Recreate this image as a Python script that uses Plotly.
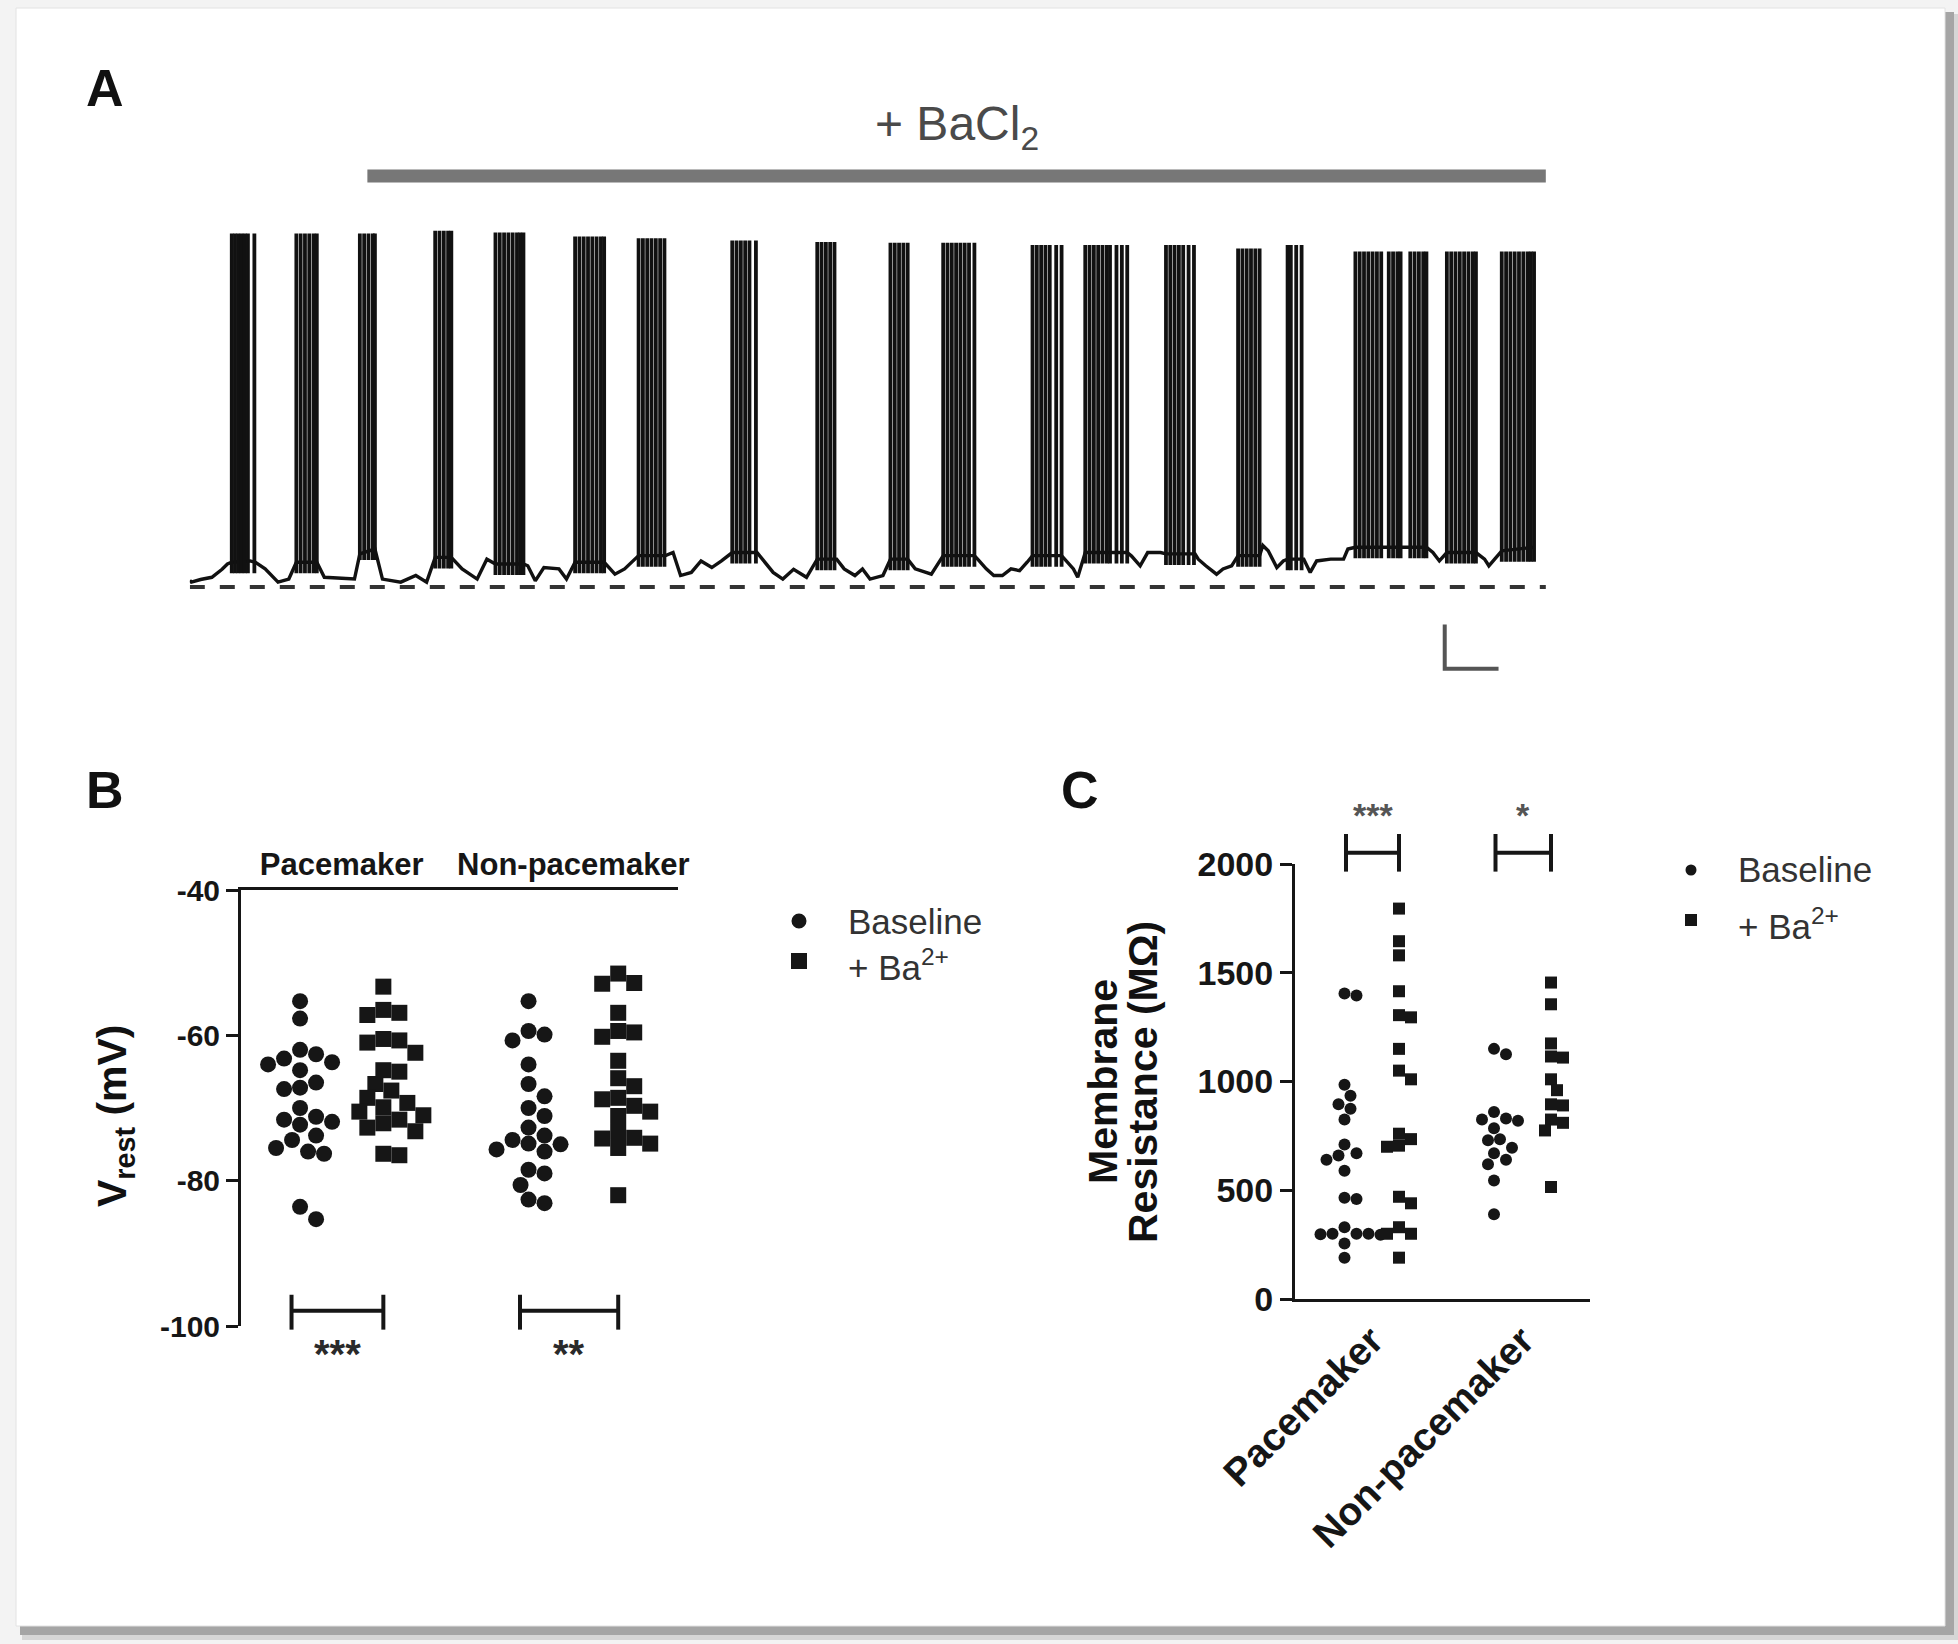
import plotly.graph_objects as go

W, H = 1958, 1644
FONT = "Arial, 'Liberation Sans', Helvetica, sans-serif"

# ---------------- Panel A data (membrane potential trace) ----------------
TRACE_T = [0.0, 0.15, 1.0, 2.05, 3.0, 3.5, 3.9, 5.6, 6.1, 7.0, 8.2, 9.2, 9.9, 11.8, 12.5, 14.4,
           15.3, 15.8, 17.2, 17.9, 19.6, 21.0, 22.0, 22.8, 24.3, 25.3, 26.7, 27.6, 28.4, 31.0,
           31.4, 32.1, 32.9, 34.3, 35.0, 35.8, 38.5, 39.5, 40.4, 41.7, 44.2, 44.9, 45.6, 46.6,
           47.5, 48.5, 49.4, 50.4, 52.7, 53.2, 54.2, 55.1, 56.1, 57.3, 58.3, 60.1, 60.8, 61.8,
           62.5, 63.2, 64.4, 65.1, 66.7, 67.4, 68.9, 70.0, 72.9, 73.2, 74.0, 74.7, 75.5, 76.3,
           77.1, 77.8, 78.3, 81.0, 81.3, 82.1, 82.5, 83.2, 87.1, 87.5, 88.3, 89.0, 90.2, 90.7,
           93.4, 93.7, 94.4, 95.4, 96.0, 96.8, 97.4, 99.4, 99.7, 100.2, 101.0, 101.6, 102.0,
           103.3, 103.5, 104.1, 104.7, 106.0, 107.2, 107.6, 108.3, 114.9, 115.5, 116.1, 116.8,
           119.5, 120.3, 120.7, 121.9, 124.9]
TRACE_V = [-58.5, -58.9, -58.3, -57.8, -56.0, -54.8, -54.4, -54.1, -54.4, -55.9, -58.9, -58.2,
           -54.4, -54.4, -57.8, -58.2, -58.2, -52.5, -51.4, -58.2, -58.9, -57.4, -58.9, -53.3,
           -53.3, -55.9, -58.2, -53.7, -54.8, -54.8, -55.2, -58.6, -55.6, -55.9, -58.2, -54.4,
           -54.4, -57.1, -55.9, -52.9, -52.9, -52.2, -57.4, -56.7, -54.1, -55.6, -54.1, -52.2,
           -52.2, -53.7, -56.7, -58.2, -56.0, -57.8, -53.7, -53.7, -55.9, -57.4, -55.9, -58.2,
           -57.4, -53.7, -53.7, -55.9, -57.1, -52.9, -52.9, -53.7, -55.9, -57.4, -57.4, -55.9,
           -56.3, -54.4, -52.9, -52.9, -53.7, -55.9, -57.8, -52.2, -52.2, -53.0, -55.2, -52.2,
           -52.2, -52.5, -52.5, -53.7, -55.2, -57.1, -55.9, -55.2, -52.9, -52.9, -50.6, -51.8,
           -55.6, -54.1, -53.7, -53.7, -53.7, -56.7, -54.1, -53.7, -53.7, -51.4, -51.0, -51.0,
           -52.2, -54.1, -52.2, -52.2, -53.7, -55.2, -51.8, -51.0]

BURST_SPIKES = [
    [3.9, 4.2, 4.5, 4.8, 5.1, 5.4, 6.0],
    [9.9, 10.3, 10.7, 11.1, 11.5, 11.8],
    [15.8, 16.2, 16.6, 17.0, 17.2],
    [22.8, 23.2, 23.6, 24.0, 24.3],
    [28.4, 28.8, 29.2, 29.6, 30.0, 30.4, 30.7, 31.0],
    [35.8, 36.2, 36.6, 37.0, 37.4, 37.8, 38.2, 38.5],
    [41.7, 42.1, 42.5, 42.9, 43.3, 43.7, 44.1],
    [50.4, 50.8, 51.2, 51.6, 52.0, 52.6],
    [58.3, 58.7, 59.1, 59.5, 59.9],
    [65.1, 65.5, 65.9, 66.3, 66.7],
    [70.0, 70.4, 70.8, 71.2, 71.6, 72.0, 72.4, 72.9],
    [78.3, 78.7, 79.1, 79.5, 79.9, 80.5, 81.0],
    [83.2, 83.6, 84.0, 84.4, 84.8, 85.2, 85.5, 86.1, 86.6, 87.1],
    [90.7, 91.1, 91.5, 91.9, 92.3, 92.8, 93.3],
    [97.4, 97.8, 98.2, 98.6, 99.0, 99.4],
    [102.0, 102.3, 102.8, 103.3],
    [108.3, 108.7, 109.1, 109.5, 109.9, 110.3, 110.7, 111.4, 111.8, 112.2, 112.5,
     113.4, 113.8, 114.2, 114.6, 114.9],
    [116.8, 117.2, 117.6, 118.0, 118.4, 118.8, 119.2, 119.5],
    [121.9, 122.3, 122.7, 123.1, 123.5, 123.9, 124.3, 124.6, 124.9],
]
BURST_PEAK = [20.0, 20.0, 20.0, 20.6, 20.2, 19.3, 18.9, 18.4, 18.1, 17.9, 17.9,
              17.4, 17.4, 17.4, 16.6, 17.4, 15.9, 15.9, 15.9]
BURST_BASE = [-54.4, -54.4, -51.4, -53.3, -54.8, -54.4, -52.9, -52.2, -53.7, -53.7, -52.9,
              -52.9, -52.2, -52.5, -52.9, -53.7, -51.0, -52.2, -51.8]
BACL_ON, BACL_OFF = 16.5, 126.0
REF_V = -60.0
SCALE_T, SCALE_MV = 5.0, 10.0

# ---------------- Panel B data (Vrest, mV) ----------------
B_CATS = ["Pacemaker", "Non-pacemaker"]
VREST_PACE_BASE = [-55.3, -57.7, -62.0, -62.6, -63.2, -63.7, -64.0, -64.8, -66.5, -67.2, -67.4,
                   -70.0, -71.2, -71.6, -71.9, -72.3, -73.8, -74.4, -75.5, -76.0, -76.3, -83.6, -85.3]
VREST_PACE_BA = [-53.3, -56.5, -56.9, -57.2, -60.5, -60.7, -61.0, -62.4, -64.8, -65.0, -66.7,
                 -67.6, -68.6, -69.3, -69.9, -70.5, -71.0, -71.6, -72.1, -72.7, -73.2, -76.3, -76.5]
VREST_NONPACE_BASE = [-55.3, -59.4, -59.9, -60.7, -64.0, -66.7, -68.4, -70.0, -71.1, -72.7, -73.8,
                      -74.4, -74.9, -75.0, -75.7, -76.0, -78.5, -79.0, -80.6, -82.6, -83.1]
VREST_NONPACE_BA = [-51.5, -52.8, -52.9, -56.9, -59.4, -59.6, -60.2, -63.5, -65.9, -67.0, -68.6,
                    -68.8, -69.7, -70.5, -71.1, -73.3, -74.1, -74.2, -74.9, -75.5, -82.0]
B_SIG = ["***", "**"]

# ---------------- Panel C data (membrane resistance, MOhm) ----------------
C_CATS = ["Pacemaker", "Non-pacemaker"]
RM_PACE_BASE = [1405, 1395, 985, 935, 895, 875, 825, 710, 670, 660, 640, 590, 465, 460,
                330, 300, 300, 298, 295, 300, 255, 190]
RM_PACE_BA = [1795, 1645, 1580, 1415, 1305, 1295, 1150, 1050, 1010, 760, 735, 705, 700,
              470, 440, 330, 300, 300, 190]
RM_NONPACE_BASE = [1150, 1125, 860, 830, 825, 820, 785, 730, 735, 695, 670, 640, 620, 545, 390]
RM_NONPACE_BA = [1455, 1355, 1175, 1110, 1115, 1010, 960, 895, 890, 825, 810, 775, 515]
C_SIG = ["***", "*"]

# ---------------- layout geometry (pixels) ----------------
XA, YA = (189.8, 1545.9), (140.0, 700.0)
XA_R, YA_R = [0, 126], [-85.57, 41.16]
XB, YB = (241.0, 678.0), (890.0, 1326.0)
XB_R, YB_R = [0, 6.14], [-100, -40]
XC, YC = (1295.0, 1590.0), (864.0, 1299.0)
XC_R, YC_R = [0, 5.9], [0, 2000]
B_GROUPS = [0.83, 2.0, 4.04, 5.3]
C_GROUPS = [0.99, 2.08, 3.98, 5.12]
INK = "#161616"


def xp(px):
    return px / W


def yp(py):
    return 1 - py / H


def map_x(v, dom, rng):
    return dom[0] + (v - rng[0]) / (rng[1] - rng[0]) * (dom[1] - dom[0])


def map_y(v, dom, rng):
    return dom[1] - (v - rng[0]) / (rng[1] - rng[0]) * (dom[1] - dom[0])


def swarm(vals, center, diam, sx, sy):
    order = sorted(range(len(vals)), key=lambda i: -vals[i])
    placed = []
    out = [center] * len(vals)
    for i in order:
        yy = vals[i] * sy
        k = 0
        found = None
        while found is None:
            cands = [0.0] if k == 0 else [k * diam * 0.5, -k * diam * 0.5]
            for c in cands:
                if all((c - a) ** 2 + (yy - b) ** 2 >= (diam * 0.97) ** 2 for a, b in placed):
                    found = c
                    break
            k += 1
        placed.append((found, yy))
        out[i] = center + found / sx
    return out


fig = go.Figure()

# ---- Panel A ----
fig.add_trace(go.Scatter(x=[BACL_ON, BACL_OFF], y=[33.0, 33.0], mode="lines",
                         line=dict(color="#777777", width=13), xaxis="x", yaxis="y",
                         showlegend=False, hoverinfo="skip"))
fig.add_trace(go.Scatter(x=[0, XA_R[1]], y=[REF_V, REF_V], mode="lines",
                         line=dict(color="#333333", width=4, dash="15px,15px"),
                         xaxis="x", yaxis="y", showlegend=False, hoverinfo="skip"))
fig.add_trace(go.Scatter(x=TRACE_T, y=TRACE_V, mode="lines",
                         line=dict(color="#111111", width=3.4), xaxis="x", yaxis="y",
                         showlegend=False, hoverinfo="skip"))
sx_, sy_ = [], []
for spikes, peak, base in zip(BURST_SPIKES, BURST_PEAK, BURST_BASE):
    for s in spikes:
        sx_ += [s, s, None]
        sy_ += [base - 2.5, peak, None]
fig.add_trace(go.Scatter(x=sx_, y=sy_, mode="lines", line=dict(color="#111111", width=3.8),
                         xaxis="x", yaxis="y", showlegend=False, hoverinfo="skip"))
sb_t0, sb_v0 = 116.6, -78.5
fig.add_trace(go.Scatter(x=[sb_t0, sb_t0, sb_t0 + SCALE_T],
                         y=[sb_v0 + SCALE_MV, sb_v0, sb_v0], mode="lines",
                         line=dict(color="#555555", width=4), xaxis="x", yaxis="y",
                         showlegend=False, hoverinfo="skip"))

# ---- Panel B ----
b_sx = (XB[1] - XB[0]) / (XB_R[1] - XB_R[0])
b_sy = (YB[1] - YB[0]) / (YB_R[1] - YB_R[0])
b_sets = [(VREST_PACE_BASE, "circle", 16), (VREST_PACE_BA, "square", 16),
          (VREST_NONPACE_BASE, "circle", 16), (VREST_NONPACE_BA, "square", 16)]
for (vals, sym, size), g in zip(b_sets, B_GROUPS):
    xs = swarm(vals, g, size, b_sx, b_sy)
    fig.add_trace(go.Scatter(x=xs, y=vals, mode="markers", xaxis="x2", yaxis="y2",
                             marker=dict(symbol=sym, size=size, color=INK, line=dict(width=0)),
                             showlegend=False, hoverinfo="skip", cliponaxis=False))

# ---- Panel C ----
c_sx = (XC[1] - XC[0]) / (XC_R[1] - XC_R[0])
c_sy = (YC[1] - YC[0]) / (YC_R[1] - YC_R[0])
c_sets = [(RM_PACE_BASE, "circle", 12), (RM_PACE_BA, "square", 12),
          (RM_NONPACE_BASE, "circle", 12), (RM_NONPACE_BA, "square", 12)]
for (vals, sym, size), g in zip(c_sets, C_GROUPS):
    xs = swarm(vals, g, size, c_sx, c_sy)
    fig.add_trace(go.Scatter(x=xs, y=vals, mode="markers", xaxis="x3", yaxis="y3",
                             marker=dict(symbol=sym, size=size, color=INK, line=dict(width=0)),
                             showlegend=False, hoverinfo="skip", cliponaxis=False))

shapes = []
annotations = []

# background frame with shadow
shapes.append(dict(type="rect", xref="paper", yref="paper", x0=xp(22), x1=xp(1958), y0=yp(1640), y1=yp(14),
                   fillcolor="#d6d6d6", line=dict(width=0), layer="below"))
shapes.append(dict(type="rect", xref="paper", yref="paper", x0=xp(20), x1=xp(1954), y0=yp(1635), y1=yp(12),
                   fillcolor="#a5a5a5", line=dict(width=0), layer="below"))
shapes.append(dict(type="rect", xref="paper", yref="paper", x0=xp(16), x1=xp(1945), y0=yp(1626), y1=yp(8),
                   fillcolor="white", line=dict(color="#e2e2e2", width=1), layer="below"))


def seg(x0, y0, x1, y1, color=INK, width=4):
    shapes.append(dict(type="line", xref="paper", yref="paper", x0=xp(x0), y0=yp(y0),
                       x1=xp(x1), y1=yp(y1), line=dict(color=color, width=width)))


# significance brackets B (below data)
for (g0, g1), sig in zip([(B_GROUPS[0], B_GROUPS[1]), (B_GROUPS[2], B_GROUPS[3])], B_SIG):
    xa = map_x(g0 - 0.12, XB, XB_R)
    xb = map_x(g1, XB, XB_R)
    ym = map_y(-97.9, YB, YB_R)
    yt = map_y(-95.7, YB, YB_R)
    ybt = map_y(-100.5, YB, YB_R)
    seg(xa, ym, xb, ym)
    seg(xa, yt, xa, ybt)
    seg(xb, yt, xb, ybt)
    annotations.append(dict(x=xp((xa + xb) / 2), y=yp(1354), xref="paper", yref="paper",
                            text=sig, showarrow=False, xanchor="center", yanchor="middle",
                            font=dict(family=FONT, size=40, color="#2a2a2a", weight="bold")))

# significance brackets C (above data)
for (g0, g1), sig in zip([(C_GROUPS[0], C_GROUPS[1]), (C_GROUPS[2], C_GROUPS[3])], C_SIG):
    xa = map_x(g0 + 0.03, XC, XC_R)
    xb = map_x(g1, XC, XC_R)
    ym = map_y(2052, YC, YC_R)
    yt = map_y(2138, YC, YC_R)
    ybt = map_y(1965, YC, YC_R)
    seg(xa, ym, xb, ym)
    seg(xa, yt, xa, ybt)
    seg(xb, yt, xb, ybt)
    annotations.append(dict(x=xp((xa + xb) / 2), y=yp(815), xref="paper", yref="paper",
                            text=sig, showarrow=False, xanchor="center", yanchor="middle",
                            font=dict(family=FONT, size=34, color="#555555", weight="bold")))

# legends (drawn manually)
def legend(cx, cy1, cy2, r, tx, size):
    shapes.append(dict(type="circle", xref="paper", yref="paper", x0=xp(cx - r), x1=xp(cx + r),
                       y0=yp(cy1 + r), y1=yp(cy1 - r), fillcolor=INK, line=dict(width=0)))
    rs = r + 0.5
    shapes.append(dict(type="rect", xref="paper", yref="paper", x0=xp(cx - rs), x1=xp(cx + rs),
                       y0=yp(cy2 + rs), y1=yp(cy2 - rs), fillcolor=INK, line=dict(width=0)))
    annotations.append(dict(x=xp(tx), y=yp(cy1), xref="paper", yref="paper", text="Baseline",
                            showarrow=False, xanchor="left", yanchor="middle",
                            font=dict(family=FONT, size=size, color="#333333")))
    annotations.append(dict(x=xp(tx), y=yp(cy2 + 4), xref="paper", yref="paper",
                            text="+ Ba<sup>2+</sup>",
                            showarrow=False, xanchor="left", yanchor="middle",
                            font=dict(family=FONT, size=size, color="#333333")))


legend(799, 921, 961, 7.5, 846, 35)
legend(1691, 870, 920, 5.5, 1736, 35)

# panel letters and titles
for letter, x, y in [("A", 105, 88), ("B", 105, 790), ("C", 1080, 790)]:
    annotations.append(dict(x=xp(x), y=yp(y), xref="paper", yref="paper", text=letter,
                            showarrow=False, xanchor="center", yanchor="middle",
                            font=dict(family=FONT, size=52, color="#111111", weight="bold")))

annotations.append(dict(x=(BACL_ON + BACL_OFF) / 2, y=yp(127), xref="x", yref="paper",
                        text="+ BaCl<sub>2</sub>", showarrow=False, xanchor="center",
                        yanchor="middle", font=dict(family=FONT, size=48, color="#4a4a4a")))

annotations.append(dict(x=xp(115), y=yp(1116), xref="paper", yref="paper",
                        text="V<sub>rest</sub> (mV)", textangle=-90, showarrow=False,
                        xanchor="center", yanchor="middle",
                        font=dict(family=FONT, size=41, color="#111111", weight="bold")))
annotations.append(dict(x=xp(1103), y=yp(1082), xref="paper", yref="paper",
                        text="Membrane", textangle=-90, showarrow=False,
                        xanchor="center", yanchor="middle",
                        font=dict(family=FONT, size=41, color="#111111", weight="bold")))
annotations.append(dict(x=xp(1143), y=yp(1082), xref="paper", yref="paper",
                        text="Resistance (MΩ)", textangle=-90, showarrow=False,
                        xanchor="center", yanchor="middle",
                        font=dict(family=FONT, size=41, color="#111111", weight="bold")))

axis_common = dict(showgrid=False, zeroline=False, linecolor=INK, linewidth=3,
                   tickcolor=INK, tickwidth=3, automargin=False)

fig.update_layout(
    width=W, height=H, autosize=False,
    margin=dict(l=0, r=0, t=0, b=0, pad=0, autoexpand=False),
    paper_bgcolor="#f3f3f3", plot_bgcolor="rgba(0,0,0,0)",
    showlegend=False,
    xaxis=dict(domain=[xp(XA[0]), xp(XA[1])], range=XA_R, visible=False, anchor="y",
               automargin=False),
    yaxis=dict(domain=[yp(YA[1]), yp(YA[0])], range=YA_R, visible=False, anchor="x",
               automargin=False),
    xaxis2=dict(domain=[xp(XB[0]), xp(XB[1])], range=XB_R, anchor="y2", side="top",
                showline=True, ticks="", tickvals=[(B_GROUPS[0] + B_GROUPS[1]) / 2,
                                                   (B_GROUPS[2] + B_GROUPS[3]) / 2],
                ticktext=B_CATS, tickfont=dict(family=FONT, size=31, color=INK, weight="bold"),
                **axis_common),
    yaxis2=dict(domain=[yp(YB[1]), yp(YB[0])], range=YB_R, anchor="x2", showline=True,
                ticks="outside", ticklen=12, tickvals=[-100, -80, -60, -40],
                ticktext=["-100", "-80", "-60", "-40"],
                tickfont=dict(family=FONT, size=30, color=INK, weight="bold"), **axis_common),
    xaxis3=dict(domain=[xp(XC[0]), xp(XC[1])], range=XC_R, anchor="y3", showline=True,
                ticks="", tickvals=[(C_GROUPS[0] + C_GROUPS[1]) / 2,
                                    (C_GROUPS[2] + C_GROUPS[3]) / 2],
                ticktext=C_CATS, tickangle=-45,
                tickfont=dict(family=FONT, size=39, color=INK, weight="bold"), **axis_common),
    yaxis3=dict(domain=[yp(YC[1]), yp(YC[0])], range=YC_R, anchor="x3", showline=True,
                ticks="outside", ticklen=12, tickvals=[0, 500, 1000, 1500, 2000],
                tickfont=dict(family=FONT, size=34, color=INK, weight="bold"), **axis_common),
    shapes=shapes,
    annotations=annotations,
)

fig.write_html("out.html", config={"displayModeBar": False},
               post_script="document.body.style.margin='0px';")
